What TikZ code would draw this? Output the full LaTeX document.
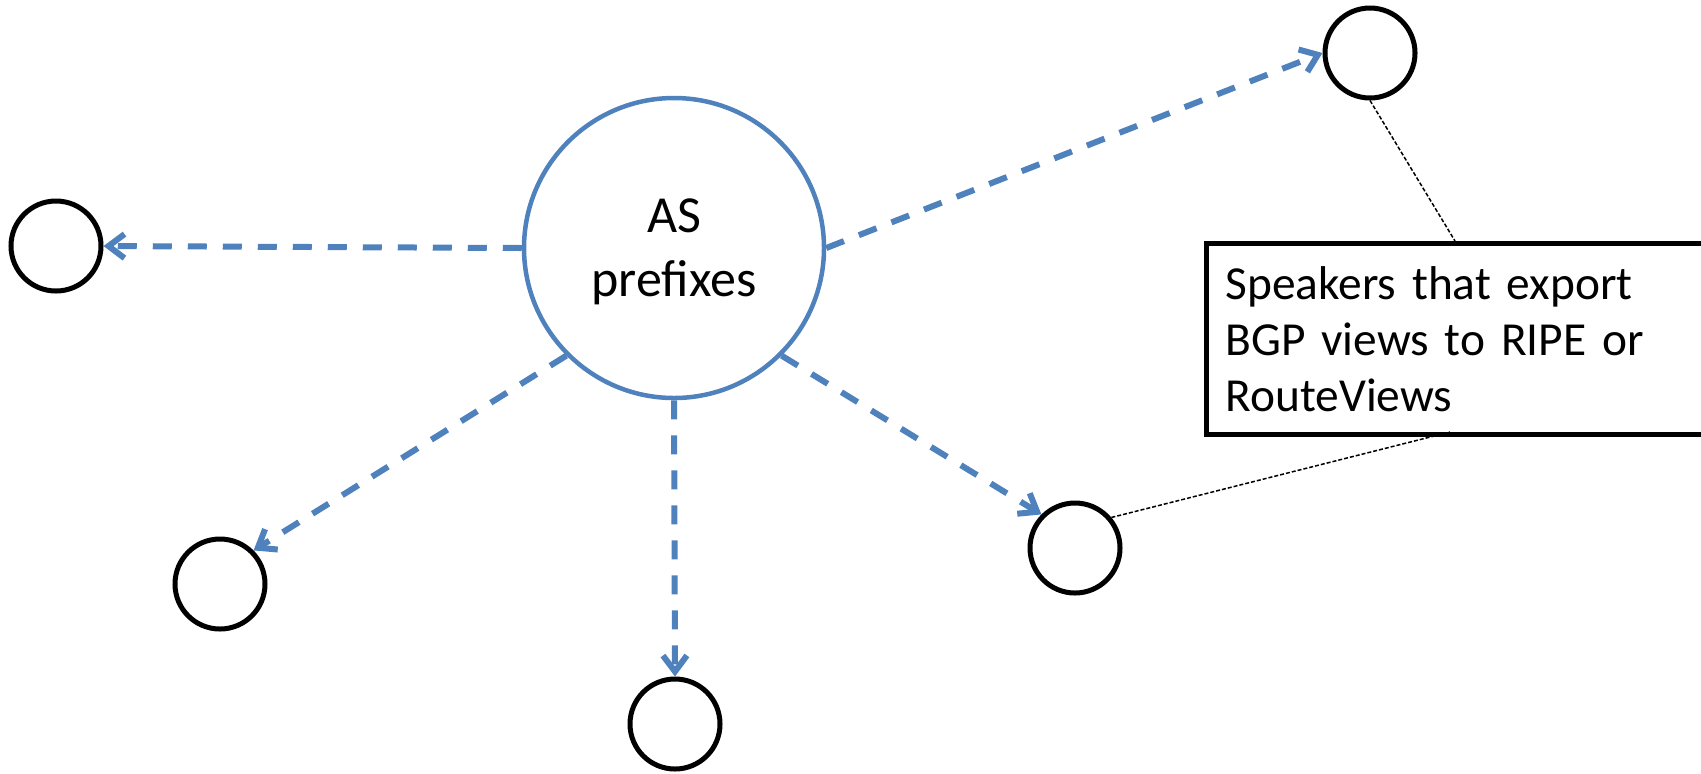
\documentclass[tikz,border=0pt]{standalone}
\usepackage{fontspec}
\setmainfont{Carlito}
\usetikzlibrary{arrows.meta}
\definecolor{asblue}{RGB}{79,129,189}

\begin{document}
\begin{tikzpicture}[x=0.5pt,y=-0.5pt,
        speaker/.style={circle,draw,line width=2.5pt,minimum size=45pt,inner sep=0pt},
        export/.style={draw=asblue,line width=3pt,dash pattern=on 9.5pt off 8pt,
            -{Straight Barb[length=8pt,width=12pt]}},
        callout/.style={draw,line width=0.75pt,dash pattern=on 2pt off 1pt}]
        \useasboundingbox (0,0) rectangle (1701,773);
        \node[circle,draw=asblue,line width=2.25pt,minimum size=150pt,align=center,
            text depth=0pt,font=\fontsize{26}{32}\selectfont] (as) at (674,248) {AS\\prefixes};
        \node[speaker] (lft) at (56,246) {};
        \node[speaker] (tr) at (1370,53) {};
        \node[speaker] (bl) at (220,584) {};
        \node[speaker] (bot) at (675,724) {};
        \node[speaker] (br) at (1075,548) {};
        \draw (as.west) edge[export] (lft.east);
        \draw (as.east) edge[export] (tr.west);
        \draw (as.south west) edge[export] (bl.north east);
        \draw (as.south) edge[export] (bot.north);
        \draw (as.south east) edge[export] (br.north west);
        % note box runs past the right edge
        \node[draw,line width=2.5pt,anchor=north west,minimum width=278pt,minimum height=95.5pt,
            text width=259pt,inner xsep=9.5pt,align=left,
            font=\fontsize{23.7}{28}\selectfont] (note) at (1204,241)
            {Speakers that export\\BGP views to RIPE or\\RouteViews};
        \coordinate (ntop) at (1455,241);
        \coordinate (nbot) at (1450,432);
        \draw[callout] (tr.south) -- (ntop);
        \draw[callout] (br.40) -- (nbot);
\end{tikzpicture}
\end{document}
